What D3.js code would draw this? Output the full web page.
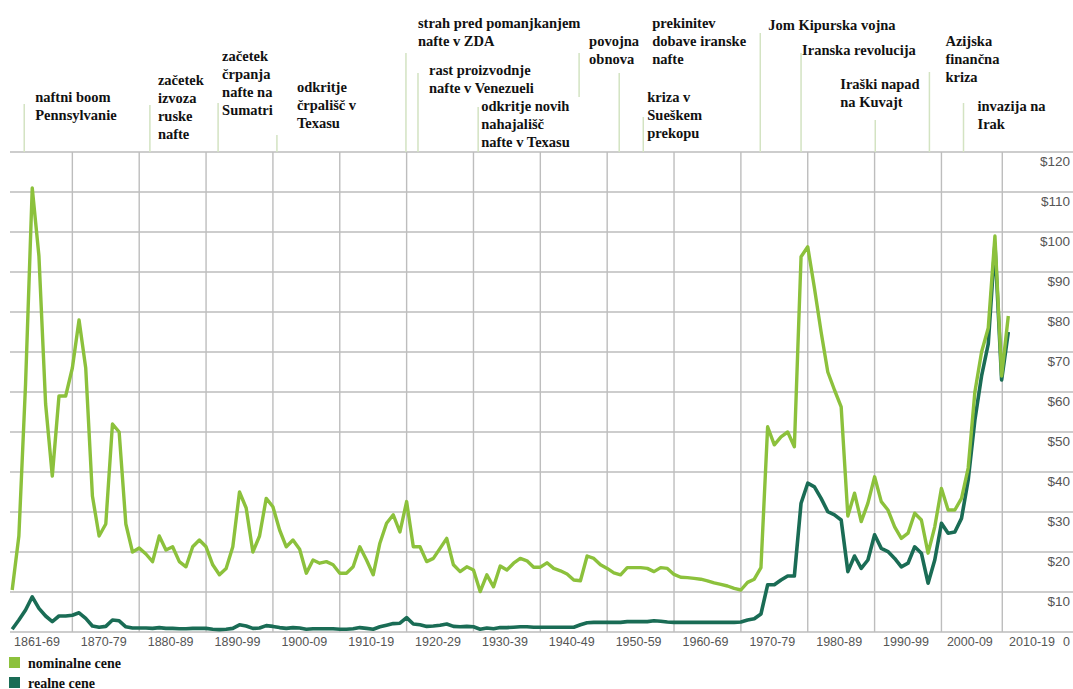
<!DOCTYPE html>
<html>
<head>
	<meta charset="utf-8">
	<title>Cene nafte 1861-2010</title>
	<script src="https://d3js.org/d3.v7.min.js" type="text/javascript"></script>
	<style>
		body { margin: 0; background: #fff; }
		svg text.note {
			font-family: "Liberation Serif", "DejaVu Serif", serif;
			font-weight: bold;
			font-size: 14.5px;
			fill: #111;
		}
		svg text.tick {
			font-family: "Liberation Sans", Arial, sans-serif;
			font-size: 12.5px;
			fill: #555;
		}
		svg text.price { font-size: 13.5px; }
	</style>
</head>
<body>
<script type="text/javascript">
	// Data, one value per year 1861..2010
	var years = d3.range(1861, 2011);

	var nominal = [
		10.5, 24, 62, 111, 94, 57, 39, 59, 59, 66,
		78, 66, 34, 24, 27, 52, 50, 27, 20, 21,
		19.5, 17.6, 24, 20.5, 21.3, 17.6, 16.3, 21.3, 23, 21.3,
		16.8, 14.3, 15.9, 21.3, 35, 31, 20, 24, 33.4, 31.3,
		25.5, 21.3, 23, 20.7, 14.7, 18, 17.2, 17.6, 16.8, 14.7,
		14.7, 16.3, 21.3, 18, 14.3, 22.2, 27.2, 29.3, 25, 32.6,
		21.3, 21.3, 17.6, 18.4, 20.9, 23.4, 16.8, 15.1, 16.3, 15.5,
		10.1, 14.3, 11.3, 16.5, 15.5, 17.2, 18.4, 17.8, 16.2, 16.2,
		17.3, 15.9, 15.3, 14.5, 13, 12.8, 19, 18.4, 16.8, 15.9,
		14.8, 14.3, 16.1, 16.1, 16.1, 15.9, 15.1, 16.1, 15.9, 14.4,
		13.7, 13.6, 13.4, 13.2, 12.8, 12.3, 11.9, 11.5, 10.9, 10.5,
		12.4, 13.2, 16.1, 51.3, 46.8, 48.8, 50, 46.3, 93.8, 96.3,
		86, 75, 65, 60.5, 56.3, 29, 34.7, 27.6, 32.2, 38.8,
		32.6, 30.5, 26.3, 23.4, 24.7, 29.7, 28, 19.7, 26.3, 35.9,
		30.5, 30.5, 33.4, 41, 60, 70, 76, 99, 64, 79
	];

	var real = [
		0.7, 3, 5.5, 8.8, 5.9, 4, 2.6, 4, 4, 4.2,
		4.8, 3.4, 1.5, 1.2, 1.4, 3, 2.8, 1.3, 1, 1,
		1, 0.9, 1.1, 0.9, 0.9, 0.8, 0.8, 0.9, 0.9, 0.9,
		0.7, 0.6, 0.7, 0.9, 1.8, 1.5, 0.9, 1, 1.6, 1.4,
		1.1, 0.9, 1.1, 1, 0.7, 0.8, 0.8, 0.8, 0.8, 0.7,
		0.7, 0.8, 1.1, 0.9, 0.7, 1.3, 1.7, 2.1, 2.2, 3.6,
		2, 1.8, 1.4, 1.5, 1.7, 2, 1.4, 1.3, 1.4, 1.3,
		0.7, 1, 0.8, 1.1, 1.1, 1.2, 1.3, 1.3, 1.2, 1.2,
		1.2, 1.2, 1.2, 1.2, 1.2, 1.8, 2.3, 2.4, 2.4, 2.4,
		2.4, 2.4, 2.6, 2.6, 2.6, 2.6, 2.8, 2.7, 2.5, 2.4,
		2.4, 2.4, 2.4, 2.4, 2.4, 2.4, 2.4, 2.4, 2.4, 2.5,
		3, 3.3, 4.5, 11.8, 11.8, 13, 14, 14, 32.2, 37.2,
		36.3, 33.4, 30.1, 29.3, 28, 15.1, 19, 15.9, 18, 24.3,
		20.9, 20.1, 18.4, 16.3, 17.2, 21.3, 19.7, 12.2, 18, 27.2,
		24.7, 25, 28.4, 38, 53, 64, 72, 97, 63, 75
	];

	var decadeLabels = ["1861-69", "1870-79", "1880-89", "1890-99", "1900-09",
		"1910-19", "1920-29", "1930-39", "1940-49", "1950-59", "1960-69",
		"1970-79", "1980-89", "1990-99", "2000-09", "2010-19"];
	// column borders (years) of the decade columns
	var decadeBounds = [1860, 1870, 1880, 1890, 1900, 1910, 1920, 1930, 1940,
		1950, 1960, 1970, 1980, 1990, 2000, 2009.1, 2018.6];

	var priceTicks = [0, 10, 20, 30, 40, 50, 60, 70, 80, 90, 100, 110, 120];
	var priceLabels = ["0", "$10", "$20", "$30", "$40", "$50", "$60", "$70",
		"$80", "$90", "$100", "$110", "$120"];

	// historical events: text lines and the year they point at
	var eventText = [
		["naftni boom", "Pennsylvanie"],
		["začetek", "izvoza", "ruske", "nafte"],
		["začetek", "črpanja", "nafte na", "Sumatri"],
		["odkritje", "črpališč v", "Texasu"],
		["strah pred pomanjkanjem", "nafte v ZDA"],
		["rast proizvodnje", "nafte v Venezueli"],
		["odkritje novih", "nahajališč", "nafte v Texasu"],
		["povojna", "obnova"],
		["prekinitev", "dobave iranske", "nafte"],
		["kriza v", "Sueškem", "prekopu"],
		["Jom Kipurska vojna"],
		["Iranska revolucija"],
		["Iraški napad", "na Kuvajt"],
		["Azijska", "finančna", "kriza"],
		["invazija na", "Irak"]
	];
	var eventYear = [1862.8, 1881.6, 1891.8, 1900.6, 1919.9, 1921.7, 1930.7,
		1945.8, 1951.8, 1955.4, 1972.9, 1979.0, 1990.1, 1998.2, 2003.3];

	// layout of the notes: [text dx from marker, first baseline, marker top, marker bottom]
	var eventLayout = [
		[11, 102, 104, 152], [8, 85, 105, 152], [4, 61, 103, 152], [20, 92, 135, 152],
		[12, 28, 53, 152], [11, 75, 73, 152], [3, 111, 107, 152], [10, 46, 53, 97],
		[33, 28, 73, 152], [4, 102, 117, 152], [8, 30, 33, 152], [1, 55, 53, 152],
		[-35, 89, 120, 152], [16, 46, 72, 152], [14, 111, 103, 152]
	];

	var width = 1073, height = 689;
	var svg = d3.select("body").append("svg")
		.attr("width", width)
		.attr("height", height);

	var x = d3.scaleLinear().domain([1860, 2010]).range([5.5, 1008.3]);
	var y = d3.scaleLinear().domain([0, 120]).range([632, 152]);

	// horizontal grid
	svg.append("g").selectAll("line")
		.data(priceTicks)
		.enter().append("line")
		.attr("x1", 10).attr("x2", width)
		.attr("y1", function(d) { return y(d); })
		.attr("y2", function(d) { return y(d); })
		.attr("stroke", "#bdbdbd")
		.attr("stroke-width", 1.4);

	// vertical grid (inner column borders)
	svg.append("g").selectAll("line")
		.data(decadeBounds.slice(1, -1))
		.enter().append("line")
		.attr("x1", function(d) { return x(d); })
		.attr("x2", function(d) { return x(d); })
		.attr("y1", y(120)).attr("y2", y(0))
		.attr("stroke", "#bdbdbd")
		.attr("stroke-width", 1.4);

	// price labels on the right
	svg.append("g").selectAll("text")
		.data(priceTicks)
		.enter().append("text")
		.attr("class", "tick price")
		.attr("text-anchor", "end")
		.attr("x", 1070)
		.attr("y", function(d) { return y(d) + 14; })
		.style("font-size", function(d) { return d === 0 ? "12.5px" : null; })
		.text(function(d, i) { return priceLabels[i]; });

	// decade labels
	svg.append("g").selectAll("text")
		.data(decadeLabels)
		.enter().append("text")
		.attr("class", "tick")
		.attr("text-anchor", "middle")
		.attr("x", function(d, i) {
			return (x(decadeBounds[i]) + x(decadeBounds[i + 1])) / 2 - 2;
		})
		.attr("y", 646)
		.text(function(d) { return d; });

	// event markers and notes
	var notes = svg.append("g").selectAll("g")
		.data(eventText)
		.enter().append("g");

	notes.append("line")
		.attr("x1", function(d, i) { return x(eventYear[i]); })
		.attr("x2", function(d, i) { return x(eventYear[i]); })
		.attr("y1", function(d, i) { return eventLayout[i][2]; })
		.attr("y2", function(d, i) { return eventLayout[i][3]; })
		.attr("stroke", "#d3e3c2")
		.attr("stroke-width", 1.5);

	notes.append("text")
		.attr("class", "note")
		.attr("y", function(d, i) { return eventLayout[i][1]; })
		.each(function(d, i) {
			var tx = x(eventYear[i]) + eventLayout[i][0];
			d3.select(this).selectAll("tspan")
				.data(d)
				.enter().append("tspan")
				.attr("x", tx)
				.attr("dy", function(t, j) { return j === 0 ? 0 : 18; })
				.text(function(t) { return t; });
		});

	// price lines
	var line = d3.line()
		.x(function(d, i) { return x(years[i]); })
		.y(function(d) { return y(d); });

	svg.append("path")
		.datum(real)
		.attr("d", line)
		.attr("fill", "none")
		.attr("stroke", "#1a6c55")
		.attr("stroke-width", 3.6)
		.attr("stroke-linejoin", "round");

	svg.append("path")
		.datum(nominal)
		.attr("d", line)
		.attr("fill", "none")
		.attr("stroke", "#8cc13c")
		.attr("stroke-width", 3.4)
		.attr("stroke-linejoin", "round");

	// legend
	var legendNames = ["nominalne cene", "realne cene"];
	var legendColors = ["#8cc13c", "#1a6c55"];
	var legend = svg.append("g").selectAll("g")
		.data(legendNames)
		.enter().append("g")
		.attr("transform", function(d, i) { return "translate(0," + (657 + i * 20) + ")"; });
	legend.append("rect")
		.attr("x", 9).attr("y", 0)
		.attr("width", 11).attr("height", 11)
		.attr("fill", function(d, i) { return legendColors[i]; });
	legend.append("text")
		.attr("class", "note")
		.attr("x", 28).attr("y", 10.5)
		.style("font-size", "14px")
		.text(function(d) { return d; });
</script>
</body>
</html>
